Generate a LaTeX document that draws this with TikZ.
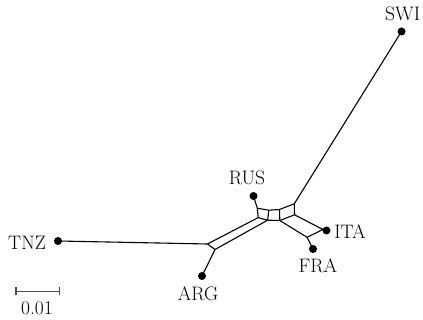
\documentclass[tikz,border=0pt]{standalone}
\usepackage{fontspec}
\begin{document}
\begin{tikzpicture}[x=1pt,y=-1pt,
  edge/.style={line width=1.1pt,black},
  leaf/.style={circle,fill=black,inner sep=0pt,minimum size=8pt},
  lab/.style={font=\fontsize{19.5}{21}\selectfont,inner sep=0pt,anchor=base},
  sbar/.style={line width=1.2pt,black!70}]
\useasboundingbox (0,0) rectangle (423,320);
% internal junctions
\coordinate (A) at (257.3,208.2);
\coordinate (B) at (258.2,217.6);
\coordinate (C) at (268.8,210.2);
\coordinate (E) at (267.6,220.2);
\coordinate (D) at (279.5,209.5);
\coordinate (F) at (279.8,220.5);
\coordinate (G) at (294.3,203.8);
\coordinate (H) at (294.5,214.8);
\coordinate (P1) at (207.5,244.0);
\coordinate (P2) at (215.0,249.5);
\coordinate (Q1) at (323.0,229.5);
\coordinate (Q2) at (307.0,237.3);
% leaves
\node[leaf] (swi) at (401.5,31.5) {};
\node[leaf] (rus) at (253.5,196) {};
\node[leaf] (tnz) at (58,241) {};
\node[leaf] (arg) at (202,276) {};
\node[leaf] (ita) at (326.5,230.5) {};
\node[leaf] (fra) at (313,249) {};
% labels
\node[lab] (lswi) at (402.7,20.7) {SWI};
\node[lab] (lrus) at (247,184.7) {RUS};
\node[lab] (ltnz) at (27,249.7) {TNZ};
\node[lab] (larg) at (198,300.7) {ARG};
\node[lab] (lita) at (350,238.7) {ITA};
\node[lab] (lfra) at (318,272.7) {FRA};
% pendant edges
\draw[edge] (swi.center) -- (G);
\draw[edge] (rus.center) -- (A);
\draw[edge] (tnz.center) -- (P1);
\draw[edge] (arg.center) -- (P2);
\draw[edge] (ita.center) -- (Q1);
\draw[edge] (fra.center) -- (Q2);
% network
\draw[edge] (A) -- (C) (A) -- (B) (B) -- (E) (C) -- (E);
\draw[edge] (C) -- (D) (E) -- (F) (D) -- (F);
\draw[edge] (D) -- (G) (F) -- (H) (G) -- (H);
\draw[edge] (B) -- (P1) (E) -- (P2) (P1) -- (P2);
\draw[edge] (H) -- (Q1) (F) -- (Q2) (Q1) -- (Q2);
% scale bar
\coordinate (s1) at (16,291.5);
\coordinate (s2) at (59.5,291.5);
\draw[sbar] (s1) -- (s2);
\draw[sbar] ([yshift=-4]s1) -- ([yshift=4]s1);
\draw[sbar] ([yshift=-4]s2) -- ([yshift=4]s2);
\node[lab] (lscale) at (37,315) {0.01};
\end{tikzpicture}
\end{document}
